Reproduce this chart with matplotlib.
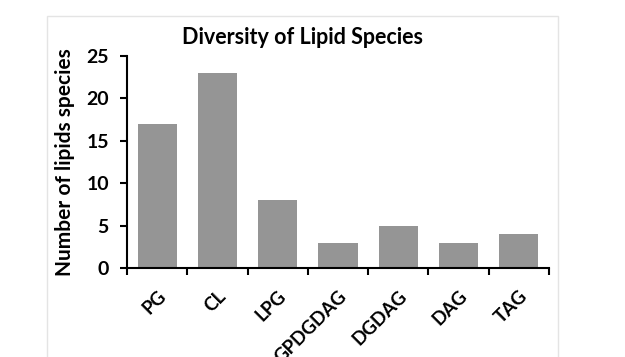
import numpy as np
import matplotlib
matplotlib.use("Agg")
import matplotlib.pyplot as plt
from matplotlib.patches import Rectangle
from matplotlib.transforms import ScaledTranslation

categories = ["PG", "CL", "LPG", "GPDGDAG", "DGDAG", "DAG", "TAG"]
counts = [17, 23, 8, 3, 5, 3, 4]
yticks = [0, 5, 10, 15, 20, 25]

plt.rcParams["font.family"] = ["Lato", "DejaVu Sans"]
plt.rcParams["font.weight"] = "bold"

fig = plt.figure(figsize=(6.25, 3.57), dpi=100)
fig.patches.append(Rectangle((47 / 625, -0.1), (558 - 47) / 625, 1.1 - 16 / 357,
                             transform=fig.transFigure, fill=False,
                             edgecolor="#e4e4e4", linewidth=1.0))
ax = fig.add_axes([127 / 625, 1 - 268 / 357, 422 / 625, 212 / 357])

x = np.arange(len(categories))
ax.bar(x, counts, width=0.65, color="#959595", zorder=2)

ax.set_xlim(-0.5, len(categories) - 0.5)
ax.set_ylim(0, 25)
ax.set_yticks(yticks)
ax.set_xticks(x)
ax.set_xticklabels(categories, rotation=45, ha="right", va="top",
                   rotation_mode="anchor", fontsize=13.5, fontweight="bold")
shift = ScaledTranslation(-4 / 72, 0, fig.dpi_scale_trans)
for lab in ax.get_xticklabels():
    lab.set_transform(lab.get_transform() + shift)
ax.set_xticks(np.arange(len(categories) + 1) - 0.5, minor=True)
ax.tick_params(axis="x", which="major", length=0, pad=14)
ax.tick_params(axis="x", which="minor", length=5, width=1.5, direction="out")
ax.tick_params(axis="y", length=5, width=1.5, direction="out", labelsize=14, pad=8)
for lab in ax.get_yticklabels():
    lab.set_fontweight("bold")

for s in ["top", "right"]:
    ax.spines[s].set_visible(False)
for s in ["left", "bottom"]:
    ax.spines[s].set_linewidth(1.5)

ax.set_ylabel("Number of lipids species", fontsize=15, fontweight="bold", labelpad=8)
fig.text(303 / 625, 1 - 38 / 357, "Diversity of Lipid Species", ha="center",
         va="center", fontsize=15.5, fontweight="bold")

fig.savefig("out.png", dpi=100)
